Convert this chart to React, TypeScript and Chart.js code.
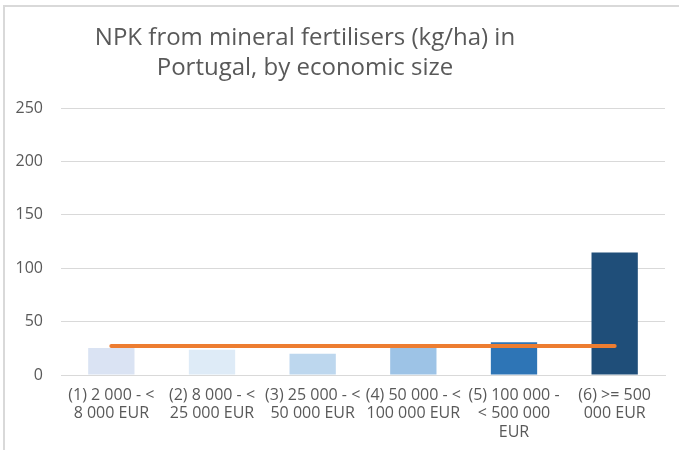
import React, { useEffect, useRef } from "react";
import { Chart, registerables } from "chart.js";

Chart.register(...registerables);

const titleLines = ["NPK from mineral fertilisers (kg/ha) in", "Portugal, by economic size"];
const categories = [
  ["(1) 2 000 - <", "8 000 EUR"],
  ["(2) 8 000 - <", "25 000 EUR"],
  ["(3) 25 000 - <", "50 000 EUR"],
  ["(4) 50 000 - <", "100 000 EUR"],
  ["(5) 100 000 -", "< 500 000", "EUR"],
  ["(6) >= 500", "000 EUR"],
];
const npkValues = [25.3, 23.7, 20.0, 26.2, 30.6, 114.7];
const averageValues = [27.2, 27.2, 27.2, 27.2, 27.2, 27.2];
const barColors = ["#DAE3F3", "#DEEBF7", "#BDD7EE", "#9DC3E6", "#2E75B6", "#1F4E79"];
const yMax = 250;
const yStep = 50;

const FONT = "'Open Sans', 'DejaVu Sans', sans-serif";
const TEXT = "#595959";

const titlePlugin = {
  id: "customTitle",
  afterDraw(chart: any) {
    const ctx = chart.ctx;
    ctx.save();
    ctx.fillStyle = TEXT;
    ctx.font = `24px ${FONT}`;
    ctx.textAlign = "center";
    ctx.textBaseline = "middle";
    ctx.fillText(titleLines[0], 305, 38);
    ctx.fillText(titleLines[1], 305, 68);
    ctx.restore();
  },
};

export default function App() {
  const ref = useRef<HTMLCanvasElement | null>(null);
  useEffect(() => {
    if (!ref.current) return;
    const chart = new Chart(ref.current, {
      type: "bar",
      data: {
        labels: categories as any,
        datasets: [
          {
            type: "line" as const,
            label: "Average",
            data: averageValues,
            borderColor: "#ED7D31",
            borderWidth: 4,
            borderCapStyle: "round",
            pointRadius: 0,
            pointHoverRadius: 0,
            fill: false,
            order: 0,
          } as any,
          {
            type: "bar" as const,
            label: "NPK",
            data: npkValues,
            backgroundColor: barColors,
            borderWidth: 0,
            categoryPercentage: 1,
            barPercentage: 0.46,
            order: 1,
          },
        ],
      },
      options: {
        animation: false,
        responsive: true,
        maintainAspectRatio: false,
        layout: { padding: { left: 0, right: 14, top: 108, bottom: 0 } },
        plugins: {
          legend: { display: false },
          title: { display: false },
          tooltip: { enabled: false },
        },
        scales: {
          x: {
            grid: { display: false, drawTicks: false },
            border: { display: true, color: "#D9D9D9", width: 1 },
            ticks: {
              color: TEXT,
              font: { family: FONT, size: 16, lineHeight: 1.15 },
              padding: 11,
              maxRotation: 0,
              autoSkip: false,
            },
            afterFit(scale: any) {
              scale.height = 75;
            },
          },
          y: {
            min: 0,
            max: yMax,
            ticks: {
              stepSize: yStep,
              color: TEXT,
              font: { family: FONT, size: 16 },
              padding: 18,
            },
            grid: { color: "#D9D9D9", lineWidth: 1, drawTicks: false },
            border: { display: false },
            afterFit(scale: any) {
              scale.width = 61;
            },
          },
        },
      },
      plugins: [titlePlugin],
    });
    return () => chart.destroy();
  }, []);
  return (
    <div style={{ position: "fixed", left: 0, top: 0, width: 679, height: 450, background: "#fff", overflow: "hidden" }}>
      <div
        style={{
          position: "absolute",
          left: 3,
          top: 5,
          width: 720,
          height: 480,
          borderLeft: "2px solid #D9D9D9",
          borderTop: "2px solid #D9D9D9",
        }}
      />
      <canvas ref={ref} style={{ position: "absolute", left: 0, top: 0, width: 679, height: 450 }} />
    </div>
  );
}
